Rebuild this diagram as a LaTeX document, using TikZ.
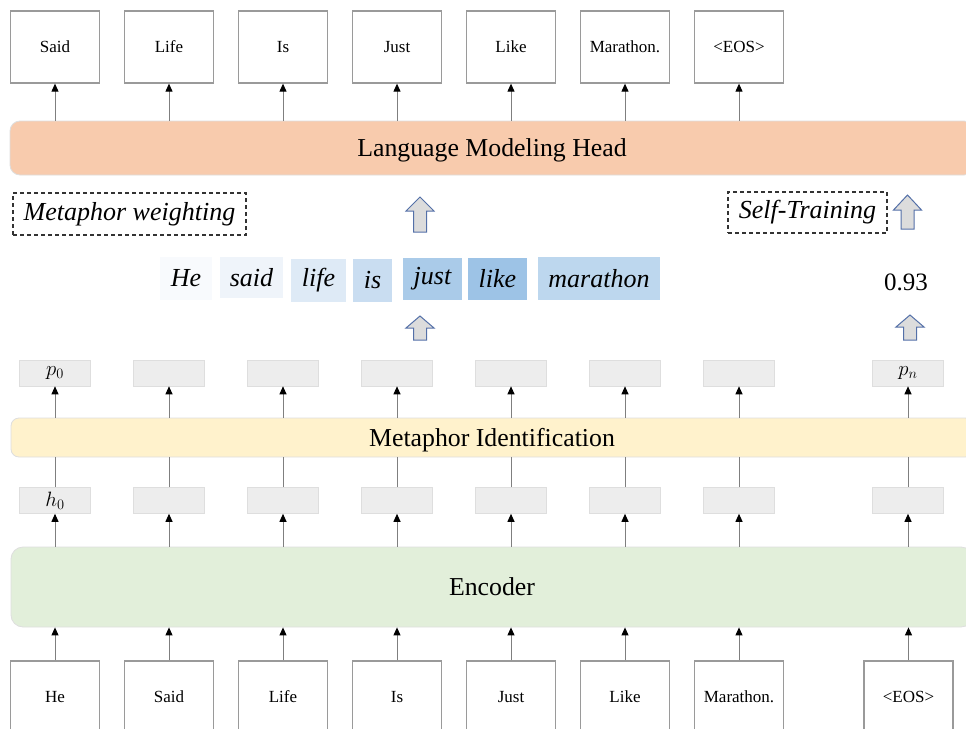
\documentclass[tikz,border=0pt]{standalone}
\usepackage{fontspec}
\setmainfont{Liberation Serif}
\usetikzlibrary{arrows.meta}
\definecolor{lmc}{HTML}{F8CBAD}
\definecolor{mic}{HTML}{FFF2CC}
\definecolor{encc}{HTML}{E2EFDA}
\definecolor{cellc}{HTML}{EDEDED}
\definecolor{celld}{HTML}{DEDEDE}
\definecolor{boxd}{HTML}{9A9A9A}
\definecolor{linec}{HTML}{7F7F7F}
\definecolor{arrfill}{HTML}{DCDCDC}
\definecolor{arrdraw}{HTML}{5470A8}
\definecolor{wHe}{HTML}{F8FAFD}
\definecolor{wsaid}{HTML}{EFF4FA}
\definecolor{wlife}{HTML}{DEEAF6}
\definecolor{wis}{HTML}{C9DDF1}
\definecolor{wjust}{HTML}{AACBE9}
\definecolor{wlike}{HTML}{9DC3E6}
\definecolor{wmar}{HTML}{BDD7EE}
\newcommand\blockup[4]{%
  \draw[blockarr] (#1,#2) -- (#1+14,#2+#4) -- (#1+6.5,#2+#4) -- (#1+6.5,#3)
    -- (#1-6.5,#3) -- (#1-6.5,#2+#4) -- (#1-14,#2+#4) -- cycle;}
\begin{document}
\begin{tikzpicture}[x=1pt,y=-1pt,
  tokbox/.style={draw=boxd, line width=1.3pt, fill=white, minimum width=89pt, minimum height=72pt, inner sep=0pt, font=\fontsize{17}{20}\selectfont},
  bar/.style={draw=celld, line width=0.8pt, inner sep=0pt, font=\fontsize{25.8}{30}\selectfont},
  cell/.style={draw=celld, line width=0.6pt, fill=cellc, minimum width=71pt, minimum height=26pt, inner sep=0pt},
  celltext/.style={inner sep=0pt, font=\fontsize{20.74}{24}\selectfont},
  dashbox/.style={draw=black!80, dashed, dash pattern=on 4pt off 3pt, line width=1.1pt, inner sep=0pt, font=\fontsize{26}{30}\selectfont\itshape},
  word/.style={inner sep=0pt, font=\fontsize{26}{30}\selectfont\itshape},
  conn/.style={draw=linec, line width=1pt, -{Triangle[length=8pt, width=7pt, color=black]}},
  plain/.style={draw=linec, line width=1pt},
  blockarr/.style={draw=arrdraw, fill=arrfill, line width=1pt, line join=miter}
]
\useasboundingbox (0,0) rectangle (966,728);
\clip (0,0) rectangle (966,728);

% output tokens
\node[tokbox] (t1) at (55,47) {Said};
\node[tokbox] (t2) at (169,47) {Life};
\node[tokbox] (t3) at (283,47) {Is};
\node[tokbox] (t4) at (397,47) {Just};
\node[tokbox] (t5) at (511,47) {Like};
\node[tokbox] (t6) at (625,47) {Marathon.};
\node[tokbox] (t7) at (739,47) {<EOS>};

% bars
\node[bar, fill=lmc, rounded corners=10pt, minimum width=964pt, minimum height=54pt, text depth=0pt] (lm) at (492,148) {Language Modeling Head};
\node[bar, fill=mic, rounded corners=8pt, minimum width=962pt, minimum height=39pt, text depth=0pt] (mi) at (492,437.5) {Metaphor Identification};
\node[bar, fill=encc, rounded corners=12pt, minimum width=962pt, minimum height=80pt, text depth=0pt] (enc) at (492,587) {Encoder};

\foreach \i in {1,...,7} \draw[conn] (lm.north -| t\i.south) -- (t\i.south);

% dashed labels
\node[dashbox, minimum width=233pt, minimum height=42pt] (mw) at (129.5,214) {Metaphor weighting};
\node[dashbox, minimum width=159pt, minimum height=41pt] (st) at (807.5,212.5) {Self-Training};

% weighted words
\node[word, fill=wHe, minimum width=52pt, minimum height=43pt] (w1) at (186,278.5) {He};
\node[word, fill=wsaid, minimum width=63pt, minimum height=41pt] (w2) at (251.5,277.5) {said};
\node[word, fill=wlife, minimum width=55pt, minimum height=43pt] (w3) at (318.5,280.5) {life};
\node[word, fill=wis, minimum width=39pt, minimum height=43pt] (w4) at (372.5,280.5) {is};
\node[word, fill=wjust, minimum width=59pt, minimum height=42pt] (w5) at (432.5,279) {just};
\node[word, fill=wlike, minimum width=59pt, minimum height=42pt] (w6) at (497.5,279) {like};
\node[word, fill=wmar, minimum width=122pt, minimum height=43pt] (w7) at (599,278.5) {marathon};
\node[inner sep=0pt, font=\fontsize{25}{30}\selectfont] (score) at (906,282) {0.93};

% block arrows
\blockup{420}{197}{232}{14}
\blockup{907.5}{195}{229}{15}
\blockup{420}{316}{340}{12}
\blockup{910}{315}{340}{12}

% p and h cells
\foreach \x/\n in {55/1,169/2,283/3,397/4,511/5,625/6,739/7,908/8} {
  \node[cell] (p\n) at (\x,373) {};
  \node[cell] (h\n) at (\x,500.5) {};
}
\node[celltext] (p1t) at (p1) {$p_0$};
\node[celltext] (p8t) at (p8) {$p_n$};
\node[celltext] (h1t) at (h1) {$h_0$};

\foreach \i in {1,...,8} {
  \draw[conn] (mi.north -| p\i.south) -- (p\i.south);
  \draw[plain] (h\i.north) -- (mi.south -| h\i.north);
  \draw[conn] (enc.north -| h\i.south) -- (h\i.south);
}

% input tokens
\node[tokbox] (b1) at (55,697) {He};
\node[tokbox] (b2) at (169,697) {Said};
\node[tokbox] (b3) at (283,697) {Life};
\node[tokbox] (b4) at (397,697) {Is};
\node[tokbox] (b5) at (511,697) {Just};
\node[tokbox] (b6) at (625,697) {Like};
\node[tokbox] (b7) at (739,697) {Marathon.};
\node[tokbox] (b8) at (908.5,697) {<EOS>};
\foreach \i in {1,...,8} \draw[conn] (b\i.north) -- (enc.south -| b\i.north);
\end{tikzpicture}
\end{document}
